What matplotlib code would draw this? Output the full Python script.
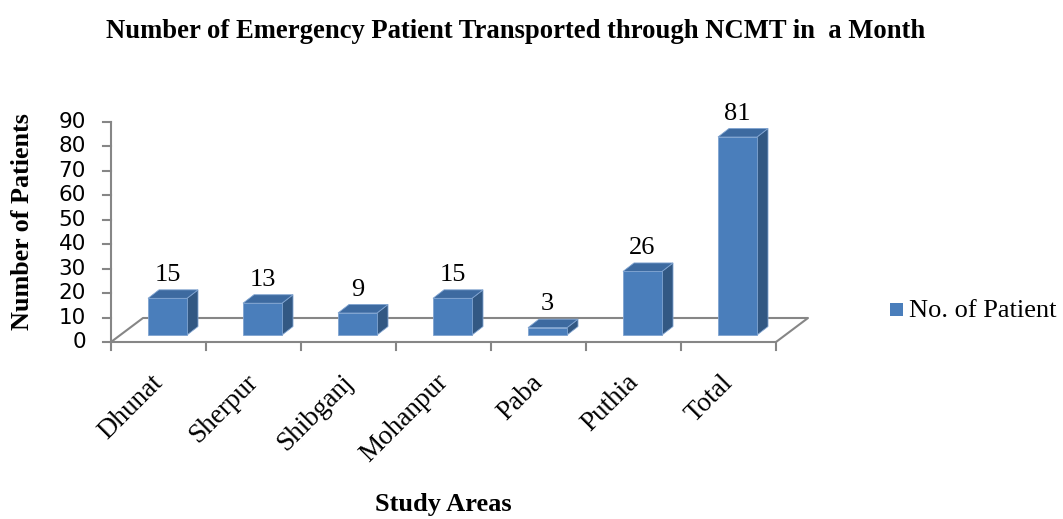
import matplotlib.pyplot as plt
from matplotlib.patches import Polygon

areas = ["Dhunat", "Sherpur", "Shibganj", "Mohanpur", "Paba", "Puthia", "Total"]
patients = [15, 13, 9, 15, 3, 26, 81]
yticks = [0, 10, 20, 30, 40, 50, 60, 70, 80, 90]

W, H = 1063, 519
fig = plt.figure(figsize=(W / 100, H / 100), dpi=100)
# axes box: x 111..776 px, y 342 (0) .. 122 (90) px
ax = fig.add_axes([111 / W, 1 - 342 / H, 665 / W, 220 / H])
ax.set_xlim(0, 7)
ax.set_ylim(0, 90)
ax.axis("off")

serif = "Liberation Serif"
grey = "#868686"
px_x = 7 / 665   # category units per pixel
px_y = 90 / 220  # value units per pixel

# floor depth, bar base offset, bar depth
fdx, fdy = 32 * px_x, 24 * px_y
bdx, bdy = 9 * px_x, 7 * px_y
ddx, ddy = 11 * px_x, 8.5 * px_y
bw = 39 * px_x

# y axis with ticks
ax.plot([0, 0], [0, 90], color=grey, lw=1.5, clip_on=False)
for t in yticks:
    ax.plot([-8 * px_x, 0], [t, t], color=grey, lw=1.5, clip_on=False)
    ax.text(-25 * px_x, t, str(t), ha="right", va="center", fontsize=15.5,
            family="DejaVu Sans")

# floor
floor = [(0, 0), (7, 0), (7 + fdx, fdy), (fdx, fdy), (0, 0)]
ax.plot([p[0] for p in floor], [p[1] for p in floor], color=grey, lw=1.5,
        clip_on=False)
for i in range(8):
    ax.plot([i, i], [0, -8 * px_y], color=grey, lw=1.5, clip_on=False)

front_c, top_c, side_c = "#4A7EBB", "#3D6AA0", "#325883"
for i, v in enumerate(patients):
    x0 = i + 0.5 - bw / 2 + bdx
    y0 = bdy
    x1 = x0 + bw
    y1 = y0 + v
    side = [(x1, y0), (x1 + ddx, y0 + ddy), (x1 + ddx, y1 + ddy), (x1, y1)]
    top = [(x0, y1), (x1, y1), (x1 + ddx, y1 + ddy), (x0 + ddx, y1 + ddy)]
    front = [(x0, y0), (x1, y0), (x1, y1), (x0, y1)]
    for pts, c in ((side, side_c), (top, top_c), (front, front_c)):
        ax.add_patch(Polygon(pts, closed=True, facecolor=c, edgecolor="#7FA3D0",
                             lw=0.6, clip_on=False, zorder=3))
    ax.text((x0 + x1) / 2, y1 + ddy + 9 * px_y, str(v), ha="center",
            va="baseline", fontsize=19, family=serif, zorder=4)
    ax.text(i + 0.5 - 8 * px_x, -28 * px_y, areas[i], ha="right", va="top",
            rotation=45, rotation_mode="anchor", fontsize=19.5, family=serif)

fig.text(516 / W, 1 - 31 / H,
         "Number of Emergency Patient Transported through NCMT in  a Month",
         ha="center", va="center", fontsize=19.2, fontweight="bold", family=serif)
fig.text(23 / W, 1 - 222 / H, "Number of Patients", ha="center", va="center",
         rotation=90, fontsize=18.8, fontweight="bold", family=serif)
fig.text(443 / W, 1 - 504 / H, "Study Areas", ha="center", va="center",
         fontsize=19, fontweight="bold", family=serif)

# legend
fig.patches.append(plt.Rectangle((890 / W, 1 - 316 / H), 13 / W, 13 / H,
                                 facecolor=front_c, transform=fig.transFigure))
fig.text(909 / W, 1 - 311 / H, "No. of Patient", ha="left", va="center",
         fontsize=19, family=serif)

fig.savefig("out.png", dpi=100)
